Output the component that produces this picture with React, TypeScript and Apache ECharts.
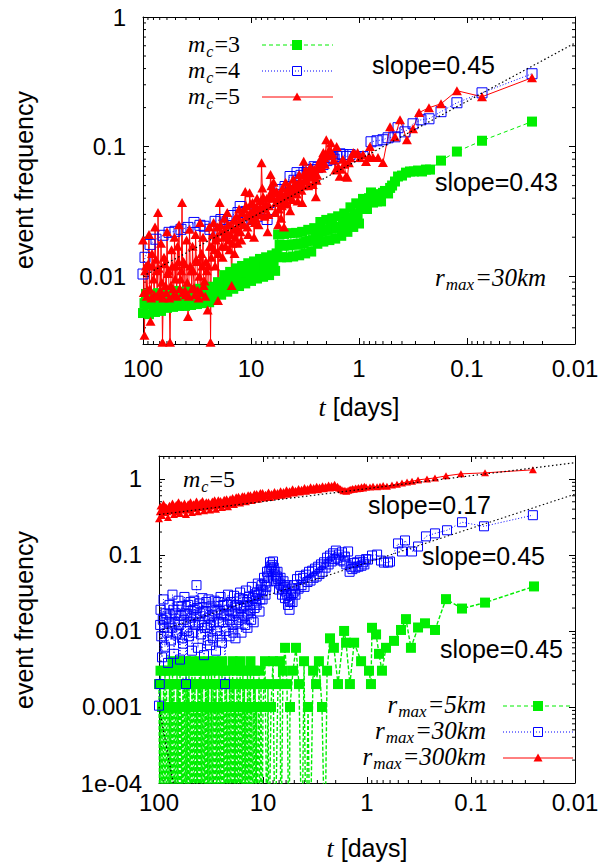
import React, { useEffect, useRef } from 'react';
import * as echarts from 'echarts';

// value used for zero counts (drawn below the axis floor, as in the original)
const Z = 1e-5;

// ---------- top panel (r_max = 30 km) : [t (days), event frequency] ----------
const topMc3: number[][] = [
  [100,0.0052],[96.9,0.0062],[93.8,0.0073],[90.8,0.0061],[88.0,0.0051],[85.2,0.0063],[82.5,0.0072],[79.9,0.0062],
  [77.4,0.0053],[75.0,0.0064],[72.6,0.0074],[70.3,0.0063],[68.1,0.0054],[66.0,0.0063],[63.9,0.0073],[61.9,0.0064],
  [59.9,0.0057],[58.0,0.0066],[56.2,0.0076],[54.4,0.0066],[52.7,0.0058],[51.1,0.0067],[49.5,0.0077],[47.9,0.0066],
  [46.4,0.0059],[44.9,0.0067],[43.5,0.0076],[42.1,0.0068],[40.8,0.0059],[39.5,0.0068],[38.3,0.0078],[37.1,0.0067],
  [35.9,0.0060],[34.8,0.0069],[33.7,0.0078],[32.6,0.0069],[31.6,0.0061],[30.6,0.0070],[29.6,0.0080],[28.7,0.0071],
  [27.8,0.0062],[26.9,0.0072],[26.1,0.0081],[25.2,0.0072],[24.4,0.0063],[23.7,0.0073],[22.9,0.0083],[22.2,0.0074],
  [21.5,0.0066],[20.8,0.0077],[20.2,0.0090],[19.5,0.0080],[18.9,0.0072],[18.3,0.0086],[17.7,0.0102],[17.2,0.0088],
  [16.6,0.0076],[16.1,0.0090],[15.6,0.0108],[15.1,0.0093],[14.6,0.0080],[14.2,0.0096],[13.7,0.0115],[13.3,0.0098],
  [12.9,0.0084],[12.5,0.0100],[12.1,0.0120],[11.7,0.0103],[11.3,0.0088],[11.0,0.0106],[10.6,0.0126],[10.3,0.0108],
  [10.0,0.0092],[9.68,0.0110],[9.37,0.0130],[9.08,0.0112],[8.79,0.0096],[8.51,0.0115],[8.25,0.0136],[7.99,0.0117],
  [7.73,0.0099],[7.49,0.0118],[7.25,0.0140],[7.02,0.0120],[6.80,0.0102],[6.59,0.0122],[6.38,0.0145],[6.18,0.0125],
  [5.98,0.0110],[5.79,0.0150],[5.61,0.0210],[5.43,0.0175],[5.26,0.0140],[5.10,0.0172],[4.94,0.0212],[4.78,0.0174],
  [4.63,0.0140],[4.48,0.0173],[4.34,0.0215],[4.20,0.0176],[4.07,0.0142],[3.94,0.0175],[3.82,0.0216],[3.70,0.0178],
  [3.58,0.0145],[3.47,0.0178],[3.36,0.0220],[3.25,0.0180],[3.15,0.0150],[3.05,0.0185],[2.95,0.0228],[2.86,0.0188],
  [2.77,0.0155],[2.68,0.0190],[2.60,0.0235],[2.51,0.0200],[2.43,0.0178],[2.36,0.0215],[2.28,0.0262],[2.21,0.0220],
  [2.14,0.0185],[2.07,0.0225],[2.01,0.0272],[1.95,0.0228],[1.88,0.0190],[1.82,0.0232],[1.77,0.0280],[1.71,0.0236],
  [1.66,0.0195],[1.61,0.0238],[1.56,0.0290],[1.51,0.0240],[1.46,0.0205],[1.41,0.0250],[1.37,0.0305],[1.32,0.0260],
  [1.28,0.0220],[1.24,0.0275],[1.20,0.0340],[1.17,0.0285],[1.13,0.0240],[1.09,0.0295],[1.06,0.0365],[1.03,0.0300],
  [1.0,0.0255],[0.958,0.0330],[0.918,0.0395],[0.88,0.0340],[0.843,0.0330],[0.807,0.0400],[0.774,0.0443],[0.742,0.0370],
  [0.711,0.0430],[0.68,0.0378],[0.652,0.0420],[0.625,0.0378],[0.60,0.0440],[0.575,0.0455],[0.538,0.0435],[0.515,0.0480],
  [0.494,0.0501],[0.464,0.0538],[0.435,0.0588],[0.400,0.0598],[0.367,0.063],[0.337,0.0643],[0.310,0.0643],[0.284,0.0654],
  [0.261,0.0643],[0.240,0.0665],[0.220,0.0665],[0.174,0.078],[0.124,0.0916],[0.0726,0.111],[0.025,0.156],
];

const topMc4: number[][] = [
  [100,0.0104],[95.8,0.014],[86.1,0.0176],[75.8,0.0193],[65.3,0.0207],[57.4,0.0218],[50.6,0.0222],[44.5,0.023],
  [38.3,0.0238],[33.7,0.026],[29.7,0.0247],[27.2,0.0243],[24,0.023],[21.5,0.0265],[19,0.0274],[16.7,0.0265],
  [15,0.0294],[13.2,0.031],[12.6,0.0345],[11.1,0.0316],[9.8,0.0274],[8.8,0.029],[7.9,0.0316],[7.1,0.0274],
  [6.8,0.0371],[6.0,0.0428],[5.39,0.0467],[4.84,0.0492],[4.35,0.0588],[4.0,0.055],[3.75,0.063],[3.45,0.060],
  [3.23,0.063],[3.0,0.066],[2.78,0.0665],[2.6,0.070],[2.4,0.0689],[2.15,0.0727],[1.98,0.078],[1.82,0.0823],
  [1.7,0.080],[1.6,0.0838],[1.5,0.088],[1.41,0.0868],[1.3,0.084],[1.21,0.0868],[1.07,0.0838],[0.918,0.0838],
  [0.774,0.109],[0.681,0.111],[0.6,0.113],[0.538,0.117],[0.464,0.119],[0.435,0.14],[0.375,0.13],[0.316,0.15],
  [0.267,0.161],[0.225,0.164],[0.174,0.186],[0.124,0.218],[0.0726,0.26],[0.025,0.365],
];

const topMc5: number[][] = [
  [100,0.019],[98.4,0.0075],[96.9,0.0035],[95.4,0.0110],[93.8,0.012],[92.3,0.0070],[90.8,0.0078],[89.4,0.0125],
  [88.0,0.021],[86.6,0.0080],[85.2,0.0045],[83.8,0.0068],[82.5,0.015],[81.2,0.0120],[79.9,0.0095],[78.6,0.0072],
  [77.4,0.024],[76.2,0.0135],[75.0,0.011],[73.8,0.0070],[72.6,0.031],[71.4,0.0115],[70.3,0.0072],[69.2,0.0078],
  [68.1,0.018],[67.0,0.0090],[66.0,0.0031],[64.9,0.0068],[63.9,0.014],[62.9,0.0125],[61.9,0.0085],[60.9,0.0075],
  [59.9,0.022],[59.0,0.0105],[58.0,0.011],[57.1,0.0068],[56.2,0.0031],[55.3,0.0085],[54.4,0.016],[53.5,0.0120],
  [52.7,0.0080],[51.9,0.0072],[51.1,0.020],[50.3,0.0095],[49.5,0.012],[48.7,0.0070],[47.9,0.017],[47.1,0.0130],
  [46.4,0.025],[45.7,0.0080],[44.9,0.0095],[44.2,0.0110],[43.5,0.037],[42.8,0.0075],[42.1,0.013],[41.4,0.0125],
  [40.8,0.0078],[40.2,0.0072],[39.5,0.019],[38.9,0.0090],[38.3,0.0049],[37.7,0.0070],[37.1,0.023],[36.5,0.0120],
  [35.9,0.011],[35.3,0.0080],[34.8,0.017],[34.2,0.0110],[33.7,0.0082],[33.2,0.0072],[32.6,0.021],[32.1,0.0135],
  [31.6,0.013],[31.1,0.0078],[30.6,0.0068],[30.1,0.0100],[29.6,0.026],[29.1,0.0075],[28.7,0.015],[28.2,0.0120],
  [27.8,0.020],[27.4,0.0085],[26.9,0.0092],[26.5,0.0070],[26.1,0.013],[25.7,0.0110],[25.2,0.0055],[24.8,0.012],
  [24.4,0.024],[24.0,0.017],[23.7,0.0031],[23.3,0.014],[22.9,0.017],[22.5,0.021],[22.2,0.026],[21.8,0.016],
  [21.5,0.012],[21.2,0.019],[20.8,0.020],[20.5,0.024],[20.2,0.0065],[19.9,0.015],[19.5,0.037],[19.2,0.025],
  [18.9,0.022],[18.6,0.017],[18.3,0.014],[18.0,0.020],[17.7,0.028],[17.4,0.023],[17.2,0.017],[16.9,0.021],
  [16.6,0.031],[16.3,0.025],[16.1,0.019],[15.8,0.016],[15.6,0.025],[15.4,0.021],[15.1,0.0085],[14.9,0.018],
  [14.6,0.023],[14.4,0.027],[14.2,0.015],[14.0,0.020],[13.7,0.029],[13.5,0.024],[13.3,0.018],[13.1,0.022],
  [12.9,0.033],[12.7,0.027],[12.5,0.022],[12.3,0.019],[12.1,0.031],[11.9,0.026],[11.7,0.025],[11.5,0.033],
  [11.3,0.045],[11.1,0.035],[11.0,0.029],[10.8,0.024],[10.6,0.021],[10.4,0.030],[10.3,0.044],[10.1,0.036],
  [10.0,0.031],[9.84,0.027],[9.68,0.037],[9.52,0.032],[9.37,0.020],[9.22,0.026],[9.08,0.028],[8.93,0.034],
  [8.79,0.040],[8.65,0.030],[8.51,0.025],[8.38,0.031],[8.25,0.034],[8.12,0.038],[7.99,0.075],[7.86,0.048],
  [7.73,0.041],[7.61,0.035],[7.49,0.029],[7.37,0.033],[7.25,0.036],[7.13,0.040],[7.02,0.022],[6.91,0.030],
  [6.80,0.035],[6.69,0.042],[6.59,0.061],[6.48,0.050],[6.38,0.046],[6.28,0.040],[6.18,0.053],[6.08,0.044],
  [5.98,0.031],[5.88,0.037],[5.79,0.045],[5.70,0.040],[5.61,0.025],[5.52,0.033],[5.43,0.039],[5.34,0.044],
  [5.26,0.028],[5.18,0.035],[5.10,0.048],[5.02,0.041],[4.94,0.024],[4.86,0.038],[4.78,0.053],[4.70,0.044],
  [4.63,0.036],[4.55,0.042],[4.48,0.046],[4.41,0.050],[4.34,0.032],[4.27,0.041],[4.20,0.039],[4.13,0.047],
  [4.07,0.056],[4.00,0.050],[3.94,0.044],[3.88,0.052],[3.82,0.049],[3.76,0.043],[3.70,0.038],[3.64,0.048],
  [3.58,0.061],[3.52,0.055],[3.47,0.052],[3.41,0.046],[3.36,0.037],[3.30,0.050],[3.25,0.077],[3.20,0.062],
  [3.15,0.056],[3.10,0.066],[3.05,0.06],[3.00,0.054],[2.95,0.05],[2.90,0.060],[2.86,0.066],[2.81,0.070],
  [2.77,0.058],[2.72,0.064],[2.68,0.051],[2.64,0.060],[2.60,0.067],[2.55,0.062],[2.51,0.041],[2.47,0.055],
  [2.43,0.06],[2.39,0.068],[2.36,0.072],[2.32,0.076],[2.28,0.08],[2.24,0.072],[2.21,0.068],[2.17,0.078],
  [2.14,0.09],[2.10,0.082],[2.07,0.073],[2.04,0.088],[2.01,0.113],[1.95,0.085],[1.88,0.095],[1.82,0.107],
  [1.77,0.088],[1.71,0.079],[1.66,0.066],[1.61,0.1],[1.56,0.07],[1.51,0.059],[1.46,0.067],[1.41,0.08],
  [1.37,0.073],[1.32,0.059],[1.28,0.058],[1.24,0.075],[1.20,0.082],[1.13,0.09],[1.09,0.088],[1.03,0.09],
  [0.98,0.0823],[0.918,0.0868],[0.861,0.0767],[0.807,0.0838],[0.791,0.1],[0.742,0.0823],[0.667,0.0823],[0.6,0.0753],
  [0.516,0.1426],[0.464,0.119],[0.417,0.161],[0.36,0.113],[0.316,0.1375],[0.278,0.183],[0.225,0.1995],[0.174,0.214],
  [0.124,0.27],[0.0726,0.2425],[0.025,0.34],
];

const topFit: number[][] = [[100, 0.01], [0.01, 0.63]];

// ---------- bottom panel (m_c = 5) ----------
const botR5: number[][] = [
  [100,0.002],[98.3,Z],[96.7,0.003],[95.1,Z],[93.6,0.001],[92.0,Z],[90.5,0.002],[89.0,Z],[87.6,0.003],[86.1,Z],
  [84.7,0.002],[83.3,Z],[81.9,0.001],[80.6,Z],[79.3,0.003],[78.0,Z],[76.7,0.002],[75.4,Z],[74.2,0.004],[72.9,Z],
  [71.7,0.002],[70.6,Z],[69.4,0.001],[68.3,Z],[67.1,0.003],[66.0,Z],[64.9,0.002],[63.9,Z],[62.8,0.004],[61.8,Z],
  [60.8,0.001],[59.8,Z],[58.8,0.003],[57.8,Z],[56.9,0.002],[55.9,Z],[55.0,0.004],[54.1,Z],[53.2,0.002],[52.4,Z],
  [51.5,0.003],[50.6,Z],[49.8,0.001],[49.0,Z],[48.2,0.004],[47.4,Z],[46.6,0.002],[45.8,Z],[45.1,0.003],[44.3,Z],
  [43.6,0.001],[42.9,Z],[42.2,0.002],[41.5,Z],[40.8,0.004],[40.1,Z],[39.5,0.003],[38.8,Z],[38.2,0.002],[37.5,Z],
  [36.9,0.001],[36.3,Z],[35.7,0.003],[35.1,Z],[34.5,0.002],[34.0,Z],[33.4,0.004],[32.9,Z],[32.3,0.001],[31.8,Z],
  [31.3,0.003],[30.7,Z],[30.2,0.002],[29.7,Z],[29.2,0.004],[28.8,Z],[28.3,0.002],[27.8,Z],[27.4,0.001],[26.9,Z],
  [26.5,0.003],[26.0,Z],[25.6,0.002],[25.2,Z],[24.8,0.004],[24.4,Z],[24.0,0.001],[23.6,Z],[23.2,0.003],[22.8,Z],
  [22.4,0.002],[22.1,Z],[21.7,0.001],[21.4,Z],[21.0,0.003],[20.7,Z],[20.3,0.002],[20.0,Z],[19.6,0.004],[19.3,Z],
  [19.0,0.002],[18.7,Z],[18.4,0.001],[18.1,Z],[17.8,0.003],[17.5,Z],[17.2,0.002],[16.9,Z],[16.6,0.004],[16.4,Z],
  [16.1,0.001],[15.8,Z],[15.6,0.003],[15.3,Z],[15.1,0.002],[14.8,Z],[14.6,0.001],[14.3,Z],[14.1,0.003],[13.9,Z],
  [13.6,0.002],[13.4,Z],[13.2,0.004],[13.0,Z],[12.8,0.001],[12.5,Z],[12.3,0.003],[12.1,Z],[11.9,0.002],[11.7,Z],
  [11.5,0.001],[11.4,Z],
  [10.9,0.003],[10.7,Z],[10.45,0.002],[10.2,Z],[10.0,0.001],[9.57,0.004],[9.15,Z],[8.96,0.002],[8.76,Z],[8.38,0.001],
  [8.01,0.004],[7.67,Z],[7.18,0.002],[6.87,0.004],[6.71,Z],[6.43,0.003],[6.14,0.006],[5.88,0.002],[5.62,Z],[5.50,0.001],
  [5.15,0.003],[4.82,0.006],[4.51,0.002],[4.22,Z],[4.03,0.004],[3.86,Z],[3.69,0.001],[3.53,Z],[3.30,0.003],[3.09,0.002],
  [2.90,0.004],[2.71,0.001],[2.54,Z],[2.42,0.003],[2.27,0.008],[2.08,0.006],[1.90,0.002],[1.66,0.010],[1.59,0.007],[1.46,0.002],
  [1.33,0.007],[1.14,0.004],[0.957,0.003],[0.916,0.002],[0.895,0.011],[0.818,0.009],[0.767,0.005],[0.718,0.003],[0.657,0.006],[0.55,0.0074],
  [0.471,0.0103],[0.422,0.0143],[0.378,0.006],[0.323,0.0111],[0.277,0.0126],[0.222,0.0103],[0.174,0.0262],[0.122,0.0197],[0.0733,0.0236],[0.0248,0.0385],
];

const botR30: number[][] = [
  [100,0.00104],[98.3,0.002],[97.5,0.012],[96.7,0.019],[95.1,0.0085],[93.6,0.0045],[92.0,0.014],[90.5,0.026],[89.0,0.011],
  [87.6,0.0062],[86.1,0.017],[84.7,0.015],[83.3,0.0095],[81.9,0.0038],[80.6,0.013],[79.3,0.022],[78.0,0.016],
  [76.7,0.0075],[75.4,0.011],[74.2,0.030],[72.9,0.019],[71.7,0.0050],[70.6,0.013],[69.4,0.017],[68.3,0.0090],
  [67.1,0.0095],[66.0,0.021],[64.9,0.025],[63.9,0.012],[62.8,0.0042],[61.8,0.016],[60.8,0.021],[59.8,0.0080],
  [58.8,0.0068],[57.8,0.014],[56.9,0.028],[55.9,0.017],[55.0,0.0020],[54.1,0.010],[53.2,0.016],[52.4,0.022],
  [51.5,0.0085],[50.6,0.013],[49.8,0.024],[49.0,0.015],[48.2,0.0055],[47.4,0.0095],[46.6,0.019],[45.8,0.025],
  [45.1,0.012],[44.3,0.016],[43.6,0.040],[42.9,0.020],[42.2,0.0060],[41.5,0.013],[40.8,0.023],[40.1,0.017],
  [39.5,0.0090],[38.8,0.012],[38.2,0.027],[37.5,0.018],[36.9,0.0048],[36.3,0.011],[35.7,0.018],[35.1,0.024],
  [34.5,0.011],[34.0,0.0075],[33.4,0.026],[32.9,0.015],[32.3,0.0065],[31.8,0.012],[31.3,0.021],[30.7,0.016],
  [30.2,0.0080],[29.7,0.013],[29.2,0.025],[28.8,0.018],[28.3,0.0055],[27.8,0.010],[27.4,0.019],[26.9,0.024],
  [26.5,0.013],[26.0,0.0085],[25.6,0.028],[25.2,0.017],[24.8,0.0070],[24.4,0.013],[24.0,0.022],[23.6,0.016],
  [23.2,0.0020],[22.8,0.010],[22.4,0.016],[22.1,0.022],[21.7,0.030],[21.4,0.019],[21.0,0.0085],[20.7,0.014],
  [20.3,0.024],[20.0,0.018],[19.6,0.012],[19.3,0.0095],[19.0,0.029],[18.7,0.021],[18.4,0.0080],[18.1,0.013],
  [17.8,0.022],[17.5,0.017],[17.2,0.014],[16.9,0.027],[16.6,0.032],[16.4,0.020],[16.1,0.0095],[15.8,0.015],
  [15.6,0.026],[15.3,0.021],[15.1,0.016],[14.8,0.012],[14.6,0.034],[14.3,0.024],[14.1,0.011],[13.9,0.017],
  [13.6,0.028],[13.4,0.022],[13.2,0.019],[13.0,0.014],[12.8,0.038],[12.5,0.027],[12.3,0.013],[12.1,0.020],
  [11.9,0.030],[11.7,0.025],[11.5,0.022],[11.4,0.032],[11.2,0.042],[11.0,0.030],[10.8,0.018],[10.6,0.026],
  [10.5,0.035],[10.3,0.040],[10.1,0.026],[9.95,0.034],[9.78,0.050],[9.62,0.042],[9.46,0.030],[9.30,0.038],
  [9.15,0.060],[9.00,0.052],[8.85,0.045],[8.70,0.062],[8.56,0.080],[8.42,0.070],[8.28,0.065],[8.14,0.074],
  [8.01,0.082],[7.88,0.068],[7.75,0.055],[7.62,0.060],[7.50,0.045],[7.37,0.052],[7.25,0.060],[7.13,0.048],
  [7.01,0.035],[6.90,0.042],[6.78,0.050],[6.67,0.040],[6.56,0.030],[6.45,0.036],[6.35,0.045],[6.24,0.038],
  [6.14,0.027],[6.04,0.033],[5.94,0.040],[5.84,0.030],[5.75,0.022],[5.65,0.026],[5.56,0.019],[5.47,0.024],
  [5.38,0.030],[5.29,0.036],[5.20,0.024],[5.11,0.032],[5.03,0.040],[4.95,0.034],
  [4.87,0.030],[4.71,0.048],[4.55,0.036],[4.40,0.053],[4.26,0.040],[4.12,0.050],[3.99,0.038],[3.86,0.055],
  [3.73,0.044],[3.61,0.060],[3.49,0.046],[3.37,0.062],[3.26,0.050],[3.16,0.066],[3.05,0.052],[2.95,0.070],
  [2.86,0.056],[2.77,0.075],[2.68,0.060],[2.59,0.080],[2.50,0.068],[2.42,0.092],[2.34,0.075],[2.27,0.098],
  [2.19,0.082],[2.12,0.105],[2.05,0.088],[1.99,0.114],[1.92,0.092],[1.86,0.101],[1.80,0.085],[1.74,0.108],
  [1.68,0.082],[1.63,0.095],[1.58,0.075],[1.52,0.111],[1.47,0.060],[1.43,0.070],[1.38,0.065],[1.34,0.078],
  [1.29,0.068],[1.25,0.080],[1.21,0.070],[1.17,0.085],[1.13,0.072],[1.09,0.080],[1.06,0.075],[1.02,0.088],
  [0.978,0.0869],[0.895,0.0982],[0.80,0.101],[0.733,0.0843],[0.687,0.0793],[0.628,0.0793],[0.601,0.0817],[0.503,0.1416],
  [0.461,0.111],[0.431,0.155],[0.369,0.111],[0.323,0.129],[0.271,0.1754],[0.222,0.192],[0.170,0.211],[0.122,0.269],
  [0.075,0.238],[0.0254,0.333],
];

const botR300: number[][] = [
  [100,0.30],[98.3,0.37],[96.7,0.44],[95.1,0.39],[93.6,0.33],[92.0,0.40],[90.5,0.47],[89.0,0.41],[87.6,0.36],[86.1,0.43],
  [84.7,0.42],[83.3,0.37],[81.9,0.31],[80.6,0.38],[79.3,0.45],[78.0,0.41],[76.7,0.38],[75.4,0.44],[74.2,0.48],[72.9,0.40],
  [71.7,0.34],[70.6,0.39],[69.4,0.43],[68.3,0.46],[67.1,0.37],[66.0,0.42],[64.9,0.50],[63.9,0.44],[62.8,0.35],[61.8,0.40],
  [60.8,0.46],[59.8,0.42],[58.8,0.39],[57.8,0.45],[56.9,0.48],[55.9,0.41],[55.0,0.34],[54.1,0.39],[53.2,0.44],[52.4,0.47],
  [51.5,0.40],[50.6,0.44],[49.8,0.50],[49.0,0.43],[48.2,0.36],[47.4,0.41],[46.6,0.47],[45.8,0.44],[45.1,0.41],[44.3,0.46],
  [43.6,0.51],[42.9,0.45],[42.2,0.37],[41.5,0.42],[40.8,0.46],[40.1,0.49],[39.5,0.42],[38.8,0.47],[38.2,0.52],[37.5,0.45],
  [36.9,0.38],[36.3,0.43],[35.7,0.47],[35.1,0.50],[34.5,0.43],[34.0,0.46],[33.4,0.50],[32.9,0.44],[32.3,0.39],[31.8,0.45],
  [31.3,0.48],[30.7,0.51],[30.2,0.44],[29.7,0.47],[29.2,0.53],[28.8,0.48],[28.3,0.40],[27.8,0.45],[27.4,0.49],[26.9,0.53],
  [26.5,0.45],[26.0,0.49],[25.6,0.52],[25.2,0.47],[24.8,0.42],[24.4,0.46],[24.0,0.50],[23.6,0.54],[23.2,0.46],[22.8,0.50],
  [22.4,0.55],[22.1,0.49],[21.7,0.43],[21.4,0.48],[21.0,0.52],[20.7,0.55],[20.3,0.47],[20.0,0.52],[19.6,0.57],[19.3,0.53],
  [19.0,0.46],[18.7,0.50],[18.4,0.54],[18.1,0.58],[17.8,0.50],[17.5,0.55],[17.2,0.59],[16.9,0.54],[16.6,0.48],[16.4,0.52],
  [16.1,0.56],[15.8,0.60],[15.6,0.52],[15.3,0.56],[15.1,0.60],[14.8,0.55],[14.6,0.50],[14.3,0.54],[14.1,0.58],[13.9,0.62],
  [13.6,0.54],[13.4,0.58],[13.2,0.62],[13.0,0.57],[12.8,0.52],[12.5,0.56],[12.3,0.60],[12.1,0.64],[11.9,0.56],[11.7,0.60],
  [11.5,0.64],[11.4,0.59],[11.2,0.54],[11.0,0.58],[10.8,0.62],[10.6,0.66],[10.5,0.58],[10.3,0.62],[10.1,0.66],[9.95,0.61],
  [9.78,0.56],[9.46,0.63],[9.15,0.60],[8.85,0.67],[8.56,0.57],[8.28,0.64],[8.01,0.61],[7.75,0.68],[7.50,0.59],[7.25,0.66],
  [7.01,0.62],[6.78,0.70],[6.56,0.61],[6.35,0.68],[6.14,0.64],[5.94,0.72],[5.75,0.63],[5.56,0.70],[5.38,0.66],[5.20,0.74],
  [5.03,0.65],[4.87,0.71],[4.71,0.68],[4.55,0.75],[4.40,0.67],[4.26,0.73],[4.12,0.70],[3.99,0.77],[3.86,0.69],[3.73,0.75],
  [3.61,0.72],[3.49,0.79],[3.37,0.71],[3.26,0.77],[3.16,0.74],[3.05,0.80],[2.95,0.72],[2.86,0.78],[2.77,0.75],[2.68,0.81],
  [2.59,0.74],[2.50,0.80],[2.42,0.77],[2.34,0.83],[2.27,0.76],[2.19,0.82],[2.12,0.79],[2.05,0.85],[1.99,0.77],[1.92,0.80],
  [1.86,0.76],[1.80,0.74],[1.74,0.72],[1.68,0.70],[1.63,0.71],[1.58,0.69],[1.52,0.71],[1.47,0.72],[1.43,0.73],[1.38,0.75],
  [1.34,0.73],[1.29,0.76],[1.25,0.74],[1.21,0.77],[1.17,0.75],[1.13,0.79],[1.09,0.76],[1.06,0.80],[1.02,0.78],[0.936,0.783],
  [0.875,0.80],[0.80,0.79],[0.75,0.80],[0.70,0.82],[0.643,0.80],[0.575,0.83],[0.515,0.85],[0.461,0.885],[0.412,0.912],[0.369,0.93],
  [0.323,0.97],[0.265,1.0],[0.222,1.03],[0.174,1.096],[0.125,1.165],[0.0733,1.20],[0.0254,1.316],
];

const botFitR300: number[][] = [[100, 0.34], [0.01, 1.63]];
const botFitR30: number[][] = [[100, 0.01], [0.01, 0.63]];
const botFitR5: number[][] = [[100, 0.001], [73, 0.0001]];

// axis ranges
const X_MIN = 0.01, X_MAX = 100;
const TOP_Y = [0.003, 1];
const BOT_Y = [0.0001, 2];

const GREEN = '#00ee00';
const BLUE = '#0000ff';
const RED = '#ff0000';
const SANS = '"Liberation Sans", Arial, Helvetica, sans-serif';
const SERIF = '"Liberation Serif", "Times New Roman", serif';

function minorValues(lo: number, hi: number): number[] {
  const out: number[] = [];
  for (let e = -5; e <= 2; e++) {
    for (let k = 2; k <= 9; k++) {
      const v = k * Math.pow(10, e);
      if (v > lo * 1.0001 && v < hi * 0.9999) out.push(v);
    }
  }
  return out;
}

const decadeLabel = (v: number) => {
  const e = Math.log10(v);
  const r = Math.round(e);
  if (Math.abs(e - r) > 1e-6) return '';
  if (r <= -4) return '1e-0' + -r;
  if (r >= 0) return String(Math.pow(10, r));
  return Math.pow(10, r).toFixed(-r);
};

export default function App() {
  const ref = useRef<HTMLDivElement>(null);

  useEffect(() => {
    const chart = echarts.init(ref.current!, null, { renderer: 'svg' });
    const canvas = document.createElement('canvas');
    const ctx = canvas.getContext('2d')!;
    const tw = (s: string, font: string) => { ctx.font = font; return ctx.measureText(s).width; };

    type Part = { t: string; size: number; italic?: boolean; sans?: boolean; dy?: number; gap?: number };
    const label = (x: number, y: number, parts: Part[], align: 'left' | 'right' | 'center') => {
      const fonts = parts.map(p => `${p.italic ? 'italic ' : ''}${p.size}px ${p.sans ? SANS : SERIF}`);
      const widths = parts.map((p, i) => tw(p.t, fonts[i]) + (p.gap || 0));
      const total = widths.reduce((a, b) => a + b, 0);
      let cx = align === 'left' ? x : align === 'right' ? x - total : x - total / 2;
      return parts.map((p, i) => {
        const el = {
          type: 'text', x: cx, y: y + (p.dy || 0), silent: true,
          style: { text: p.t, font: fonts[i], lineHeight: p.size, fill: '#000', textAlign: 'left', textVerticalAlign: 'middle' },
        };
        cx += widths[i];
        return el;
      });
    };
    const plain = (x: number, y: number, text: string, size = 25) => ({
      type: 'text', x, y, silent: true,
      style: { text, font: `${size}px ${SANS}`, fill: '#000', textAlign: 'left', textVerticalAlign: 'middle' },
    });

    const mkX = (gi: number, labels: boolean, margin: number) => ({
      type: 'log', logBase: 10, gridIndex: gi, min: X_MIN, max: X_MAX, inverse: true,
      position: labels ? 'bottom' : 'top',
      axisLine: { show: true, onZero: false, lineStyle: { color: '#000', width: 1 } },
      axisTick: { show: true, inside: true, length: 6, lineStyle: { color: '#000', width: 1 } },
      axisLabel: { show: labels, formatter: decadeLabel, margin, color: '#000', fontSize: 24, fontFamily: SANS },
      splitLine: { show: false },
    });
    const mkY = (gi: number, range: number[], labels: boolean) => ({
      type: 'log', logBase: 10, gridIndex: gi, min: range[0], max: range[1],
      position: labels ? 'left' : 'right',
      axisLine: { show: true, onZero: false, lineStyle: { color: '#000', width: 1 } },
      axisTick: { show: true, inside: true, length: 6, lineStyle: { color: '#000', width: 1 } },
      axisLabel: { show: labels, formatter: decadeLabel, margin: 17, color: '#000', fontSize: 24, fontFamily: SANS },
      splitLine: { show: false },
    });

    const line = (data: number[][], xi: number, yi: number, color: string, dash: any, symbol: string, size: any, filled: boolean, width = 1) => ({
      type: 'line', xAxisIndex: xi, yAxisIndex: yi, data, symbol, symbolSize: size, showSymbol: true,
      showAllSymbol: true, silent: true, clip: true, z: 2,
      lineStyle: { color, width, type: dash },
      itemStyle: filled ? { color } : { color: 'rgba(0,0,0,0)', borderColor: color, borderWidth: 1 },
      emphasis: { disabled: true },
    });
    const fit = (data: number[][], xi: number, yi: number) => ({
      type: 'line', xAxisIndex: xi, yAxisIndex: yi, data, symbol: 'none', silent: true, clip: true, z: 3,
      lineStyle: { color: '#000', width: 1.2, type: [1.5, 2.5] },
      emphasis: { disabled: true },
    });
    const minorX = (xi: number, yi: number, yRef: number) => ({
      type: 'custom', xAxisIndex: xi, yAxisIndex: yi, silent: true, z: 1,
      data: minorValues(X_MIN, X_MAX).map(v => [v, yRef]),
      renderItem: (params: any, api: any) => {
        const cs = params.coordSys;
        const px = api.coord([api.value(0), api.value(1)])[0];
        const st = { stroke: '#000', lineWidth: 1 };
        return { type: 'group', children: [
          { type: 'line', shape: { x1: px, y1: cs.y + cs.height, x2: px, y2: cs.y + cs.height - 3 }, style: st },
          { type: 'line', shape: { x1: px, y1: cs.y, x2: px, y2: cs.y + 3 }, style: st },
        ] };
      },
    });
    const minorY = (xi: number, yi: number, range: number[]) => ({
      type: 'custom', xAxisIndex: xi, yAxisIndex: yi, silent: true, z: 1,
      data: minorValues(range[0], range[1]).map(v => [1, v]),
      renderItem: (params: any, api: any) => {
        const cs = params.coordSys;
        const py = api.coord([api.value(0), api.value(1)])[1];
        const st = { stroke: '#000', lineWidth: 1 };
        return { type: 'group', children: [
          { type: 'line', shape: { x1: cs.x, y1: py, x2: cs.x + 3, y2: py }, style: st },
          { type: 'line', shape: { x1: cs.x + cs.width, y1: py, x2: cs.x + cs.width - 3, y2: py }, style: st },
        ] };
      },
    });

    // legend pieces
    const legLine = (x1: number, x2: number, y: number, color: string, dash: any) => ({
      type: 'line', silent: true, shape: { x1, y1: y, x2, y2: y }, style: { stroke: color, lineWidth: 1, lineDash: dash },
    });
    const sqFilled = (x: number, y: number) => ({ type: 'rect', silent: true, shape: { x: x - 5, y: y - 5, width: 10, height: 10 }, style: { fill: GREEN } });
    const sqOpen = (x: number, y: number) => ({ type: 'rect', silent: true, shape: { x: x - 4.5, y: y - 4.5, width: 9, height: 9 }, style: { fill: 'none', stroke: BLUE, lineWidth: 1 } });
    const tri = (x: number, y: number) => ({ type: 'polygon', silent: true, shape: { points: [[x, y - 4.5], [x + 4.5, y + 3.5], [x - 4.5, y + 3.5]] }, style: { fill: RED } });

    const mc = (x: number, y: number, n: string, align: 'left' | 'right') => label(x, y, [
      { t: 'm', size: 24, italic: true, gap: 1 }, { t: 'c', size: 16, italic: true, dy: 7, gap: 1 }, { t: '=' + n, size: 24 },
    ], align);
    const rmax = (x: number, y: number, v: string, align: 'left' | 'right') => label(x, y, [
      { t: 'r', size: 25, italic: true, gap: 1 }, { t: 'max', size: 17, italic: true, dy: 7, gap: 1 }, { t: '=' + v, size: 25, italic: true },
    ], align);
    const xTitle = (cx: number, y: number) => label(cx, y, [
      { t: 't', size: 26, italic: true }, { t: ' [days]', size: 25, sans: true },
    ], 'center');
    const yTitle = (x: number, y: number) => ({
      type: 'text', x, y, rotation: Math.PI / 2, silent: true,
      style: { text: 'event frequency', font: `25px ${SANS}`, fill: '#000', textAlign: 'center', textVerticalAlign: 'middle' },
    });

    const graphic: any[] = [
      yTitle(24, 180), yTitle(24, 620),
      ...xTitle(359, 407), ...xTitle(367, 848),
      // top legend
      ...mc(188, 44, '3', 'left'), legLine(262, 333, 45, GREEN, [4, 3]), sqFilled(297, 45),
      ...mc(188, 70, '4', 'left'), legLine(262, 333, 71, BLUE, [1, 2]), sqOpen(297, 71),
      ...mc(188, 96, '5', 'left'), legLine(262, 333, 97, RED, null), tri(297, 97),
      plain(372, 65, 'slope=0.45'), plain(435, 182, 'slope=0.43'),
      ...rmax(435, 277, '30km', 'left'),
      // bottom panel
      ...mc(183, 479, '5', 'left'),
      plain(368, 505, 'slope=0.17'), plain(422, 556, 'slope=0.45'), plain(440, 649, 'slope=0.45'),
      ...rmax(486, 704, '5km', 'right'), legLine(503, 573, 706, GREEN, [4, 3]), sqFilled(538, 706),
      ...rmax(486, 730, '30km', 'right'), legLine(503, 573, 732, BLUE, [1, 2]), sqOpen(538, 732),
      ...rmax(486, 756, '300km', 'right'), legLine(503, 573, 758, RED, null), tri(538, 758),
    ];

    const option: any = {
      animation: false,
      backgroundColor: '#fff',
      grid: [
        { left: 143, top: 17, width: 432, height: 327 },
        { left: 159, top: 456, width: 416, height: 327 },
      ],
      xAxis: [mkX(0, true, 12), mkX(0, false, 0), mkX(1, true, 7), mkX(1, false, 0)],
      yAxis: [mkY(0, TOP_Y, true), mkY(0, TOP_Y, false), mkY(1, BOT_Y, true), mkY(1, BOT_Y, false)],
      series: [
        minorX(0, 0, 0.01), minorY(0, 0, TOP_Y),
        minorX(2, 2, 0.01), minorY(2, 2, BOT_Y),
        line(topMc3, 0, 0, GREEN, [4, 3], 'rect', 10, true),
        line(topMc4, 0, 0, BLUE, [1, 2], 'rect', 10, false),
        line(topMc5, 0, 0, RED, 'solid', 'triangle', [10, 9], true),
        fit(topFit, 0, 0),
        line(botR5, 2, 2, GREEN, [4, 2], 'rect', 10, true, 1.4),
        line(botR30, 2, 2, BLUE, [1, 2], 'rect', 9, false),
        line(botR300, 2, 2, RED, 'solid', 'triangle', [8, 7], true),
        fit(botFitR300, 2, 2), fit(botFitR30, 2, 2), fit(botFitR5, 2, 2),
      ],
      graphic,
    };
    chart.setOption(option);
    return () => chart.dispose();
  }, []);

  return <div ref={ref} style={{ position: 'absolute', left: 0, top: 0, width: 603, height: 863, background: '#fff' }} />;
}
